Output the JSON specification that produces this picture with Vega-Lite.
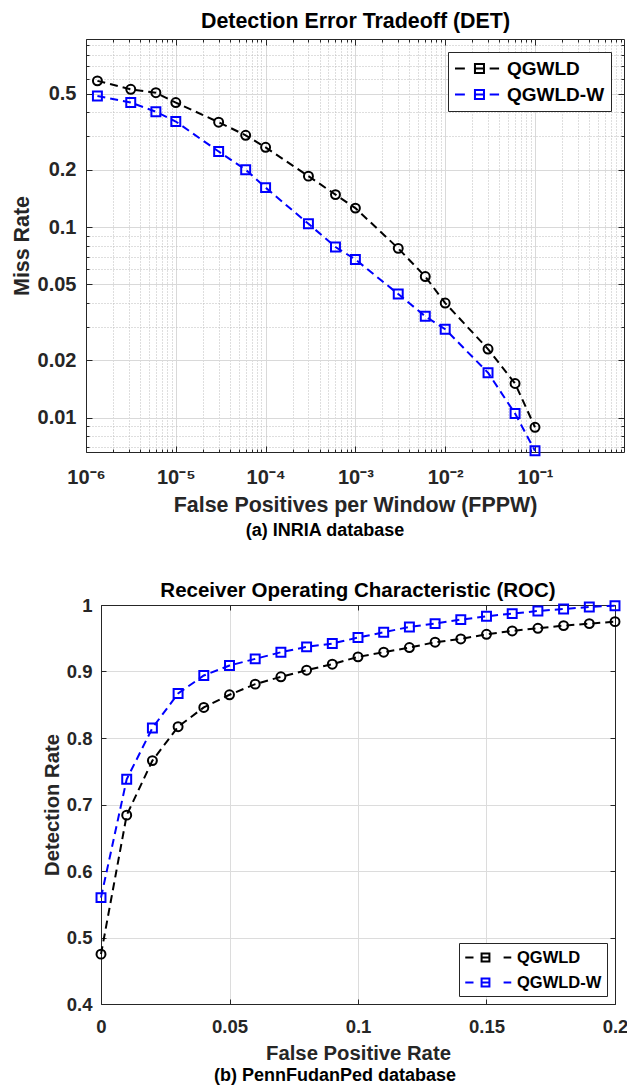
{
  "$schema": "https://vega.github.io/schema/vega-lite/v6.json",
  "background": "white",
  "padding": {"left": 11, "top": 10, "right": 0, "bottom": 0},
  "config": {
    "font": "Liberation Sans",
    "view": {"stroke": null},
    "axis": {"labelFont": "Liberation Sans", "titleFont": "Liberation Sans", "labelFontWeight": "bold", "titleFontWeight": "bold", "labelColor": "#262626", "titleColor": "#262626", "domainColor": "#262626", "tickColor": "#262626", "domainWidth": 1, "tickWidth": 1, "labelOverlap": false, "labelFlush": false, "labelBound": false, "gridWidth": 1},
    "title": {"font": "Liberation Sans", "fontWeight": "bold", "color": "#000000", "anchor": "middle"},
    "legend": {"labelFont": "Liberation Sans", "labelFontWeight": "bold", "labelColor": "#000000"}
  },
  "datasets": {
    "det": [
      {"series": "QGWLD", "fppw": 0.00000134, "miss": 0.585},
      {"series": "QGWLD", "fppw": 0.00000315, "miss": 0.528},
      {"series": "QGWLD", "fppw": 0.000006, "miss": 0.507},
      {"series": "QGWLD", "fppw": 0.00001, "miss": 0.45},
      {"series": "QGWLD", "fppw": 0.00003, "miss": 0.355},
      {"series": "QGWLD", "fppw": 0.00006, "miss": 0.303},
      {"series": "QGWLD", "fppw": 0.0001, "miss": 0.262},
      {"series": "QGWLD", "fppw": 0.0003, "miss": 0.185},
      {"series": "QGWLD", "fppw": 0.0006, "miss": 0.148},
      {"series": "QGWLD", "fppw": 0.001, "miss": 0.1257},
      {"series": "QGWLD", "fppw": 0.003, "miss": 0.0773},
      {"series": "QGWLD", "fppw": 0.006, "miss": 0.055},
      {"series": "QGWLD", "fppw": 0.01, "miss": 0.0399},
      {"series": "QGWLD", "fppw": 0.03, "miss": 0.0229},
      {"series": "QGWLD", "fppw": 0.06, "miss": 0.0151},
      {"series": "QGWLD", "fppw": 0.1, "miss": 0.0089},
      {"series": "QGWLD-W", "fppw": 0.00000134, "miss": 0.487},
      {"series": "QGWLD-W", "fppw": 0.00000315, "miss": 0.45},
      {"series": "QGWLD-W", "fppw": 0.000006, "miss": 0.403},
      {"series": "QGWLD-W", "fppw": 0.00001, "miss": 0.358},
      {"series": "QGWLD-W", "fppw": 0.00003, "miss": 0.249},
      {"series": "QGWLD-W", "fppw": 0.00006, "miss": 0.2},
      {"series": "QGWLD-W", "fppw": 0.0001, "miss": 0.161},
      {"series": "QGWLD-W", "fppw": 0.0003, "miss": 0.104},
      {"series": "QGWLD-W", "fppw": 0.0006, "miss": 0.0786},
      {"series": "QGWLD-W", "fppw": 0.001, "miss": 0.0676},
      {"series": "QGWLD-W", "fppw": 0.003, "miss": 0.0445},
      {"series": "QGWLD-W", "fppw": 0.006, "miss": 0.034},
      {"series": "QGWLD-W", "fppw": 0.01, "miss": 0.0291},
      {"series": "QGWLD-W", "fppw": 0.03, "miss": 0.0172},
      {"series": "QGWLD-W", "fppw": 0.06, "miss": 0.0105},
      {"series": "QGWLD-W", "fppw": 0.1, "miss": 0.0067}
    ],
    "roc": [
      {"series": "QGWLD", "fpr": 0, "dr": 0.475},
      {"series": "QGWLD", "fpr": 0.01, "dr": 0.684},
      {"series": "QGWLD", "fpr": 0.02, "dr": 0.766},
      {"series": "QGWLD", "fpr": 0.03, "dr": 0.817},
      {"series": "QGWLD", "fpr": 0.04, "dr": 0.846},
      {"series": "QGWLD", "fpr": 0.05, "dr": 0.865},
      {"series": "QGWLD", "fpr": 0.06, "dr": 0.881},
      {"series": "QGWLD", "fpr": 0.07, "dr": 0.892},
      {"series": "QGWLD", "fpr": 0.08, "dr": 0.902},
      {"series": "QGWLD", "fpr": 0.09, "dr": 0.911},
      {"series": "QGWLD", "fpr": 0.1, "dr": 0.922},
      {"series": "QGWLD", "fpr": 0.11, "dr": 0.929},
      {"series": "QGWLD", "fpr": 0.12, "dr": 0.936},
      {"series": "QGWLD", "fpr": 0.13, "dr": 0.944},
      {"series": "QGWLD", "fpr": 0.14, "dr": 0.949},
      {"series": "QGWLD", "fpr": 0.15, "dr": 0.956},
      {"series": "QGWLD", "fpr": 0.16, "dr": 0.961},
      {"series": "QGWLD", "fpr": 0.17, "dr": 0.965},
      {"series": "QGWLD", "fpr": 0.18, "dr": 0.969},
      {"series": "QGWLD", "fpr": 0.19, "dr": 0.972},
      {"series": "QGWLD", "fpr": 0.2, "dr": 0.975},
      {"series": "QGWLD-W", "fpr": 0, "dr": 0.56},
      {"series": "QGWLD-W", "fpr": 0.01, "dr": 0.738},
      {"series": "QGWLD-W", "fpr": 0.02, "dr": 0.815},
      {"series": "QGWLD-W", "fpr": 0.03, "dr": 0.867},
      {"series": "QGWLD-W", "fpr": 0.04, "dr": 0.894},
      {"series": "QGWLD-W", "fpr": 0.05, "dr": 0.909},
      {"series": "QGWLD-W", "fpr": 0.06, "dr": 0.919},
      {"series": "QGWLD-W", "fpr": 0.07, "dr": 0.929},
      {"series": "QGWLD-W", "fpr": 0.08, "dr": 0.937},
      {"series": "QGWLD-W", "fpr": 0.09, "dr": 0.942},
      {"series": "QGWLD-W", "fpr": 0.1, "dr": 0.951},
      {"series": "QGWLD-W", "fpr": 0.11, "dr": 0.959},
      {"series": "QGWLD-W", "fpr": 0.12, "dr": 0.967},
      {"series": "QGWLD-W", "fpr": 0.13, "dr": 0.972},
      {"series": "QGWLD-W", "fpr": 0.14, "dr": 0.978},
      {"series": "QGWLD-W", "fpr": 0.15, "dr": 0.983},
      {"series": "QGWLD-W", "fpr": 0.16, "dr": 0.987},
      {"series": "QGWLD-W", "fpr": 0.17, "dr": 0.991},
      {"series": "QGWLD-W", "fpr": 0.18, "dr": 0.994},
      {"series": "QGWLD-W", "fpr": 0.19, "dr": 0.997},
      {"series": "QGWLD-W", "fpr": 0.2, "dr": 0.999}
    ]
  },
  "resolve": {"scale": {"color": "independent"}, "legend": {"color": "independent"}},
  "spacing": 39,
  "vconcat": [
    {
      "title": {"text": "(a) INRIA database", "orient": "bottom", "fontSize": 18, "offset": 7, "color": "#000000"},
      "resolve": {"scale": {"color": "independent"}, "legend": {"color": "independent"}},
      "vconcat": [
        {
          "width": 523,
          "height": 413,
          "title": {"text": "Detection Error Tradeoff (DET)", "fontSize": 21.4, "offset": 3, "frame": "group", "dx": -7},
          "data": {"name": "det"},
          "layer": [
            {
              "mark": {"type": "line", "strokeDash": [8, 5], "strokeWidth": 2},
              "encoding": {
                "color": {
                  "field": "series", "type": "nominal",
                  "scale": {"domain": ["QGWLD", "QGWLD-W"], "range": ["#000000", "#0000ff"]},
                  "legend": {
                    "title": null, "orient": "top-right", "offset": 13, "padding": 6,
                    "strokeColor": "#262626", "fillColor": "#ffffff",
                    "labelFontSize": 19, "labelOffset": 32, "rowPadding": 5,
                    "symbolType": "M-1,0H0.04M1.1,0H2.05M2.65,0H3.64M1.1,0A0.474,0.474 0 1,1 2.05,0A0.474,0.474 0 1,1 1.1,0Z",
                    "symbolSize": 361, "symbolStrokeWidth": 2, "symbolFillColor": "transparent", "symbolDash": [],
                    "encode": {"symbols": {"update": {
                      "shape": {"condition": {"test": "datum.index === 0 || datum.label === 'QGWLD' || datum.value === 'QGWLD'", "value": "M-1,0H0.04M1.1,0H2.05M2.65,0H3.64M1.1,0A0.474,0.474 0 1,1 2.05,0A0.474,0.474 0 1,1 1.1,0Z"}, "value": "M-1,0H0.04M1.1,0H2.05M2.65,0H3.64M1.1,-0.474H2.05V0.474H1.1Z"},
                      "strokeWidth": {"value": 2}
                    }}}
                  }
                },
                "x": {
                  "field": "fppw", "type": "quantitative",
                  "scale": {"type": "log", "domain": [0.000001, 0.98], "range": [-15, 523], "nice": false},
                  "axis": {
                    "orient": "bottom",
                    "values": [0.000001,0.000002,0.000003,0.000004,0.000005,0.000006,0.000007,0.000008,0.000009,0.00001,0.00002,0.00003,0.00004,0.00005,0.00006,0.00007,0.00008,0.00009,0.0001,0.0002,0.0003,0.0004,0.0005,0.0006,0.0007,0.0008,0.0009,0.001,0.002,0.003,0.004,0.005,0.006,0.007,0.008,0.009,0.01,0.02,0.03,0.04,0.05,0.06,0.07,0.08,0.09,0.1,0.2,0.3,0.4,0.5,0.6,0.7,0.8,0.9],
                    "grid": true,
                    "gridColor": {"condition": {"test": "abs(log(datum.value)/LN10 - round(log(datum.value)/LN10)) < 0.001", "value": "#d9d9d9"}, "value": "#bdbdbd"},
                    "gridDash": {"condition": {"test": "abs(log(datum.value)/LN10 - round(log(datum.value)/LN10)) < 0.001", "value": []}, "value": [1, 2]},
                    "tickSize": {"condition": {"test": "abs(log(datum.value)/LN10 - round(log(datum.value)/LN10)) < 0.001", "value": -6}, "value": -3},
                    "labelExpr": "datum.value == 0.000001 ? '10⁻⁶' : datum.value == 0.00001 ? '10⁻⁵' : datum.value == 0.0001 ? '10⁻⁴' : datum.value == 0.001 ? '10⁻³' : datum.value == 0.01 ? '10⁻²' : datum.value == 0.1 ? '10⁻¹' : ''",
                    "labelFontSize": 20,
                    "labelPadding": 21,
                    "title": "False Positives per Window (FPPW)",
                    "titleFontSize": 21.4,
                    "titlePadding": 4
                  }
                },
                "y": {
                  "field": "miss", "type": "quantitative",
                  "scale": {"type": "log", "domain": [0.0066, 0.97], "nice": false},
                  "axis": {
                    "orient": "left", "offset": 15,
                    "values": [0.007,0.008,0.009,0.01,0.02,0.03,0.04,0.05,0.06,0.07,0.08,0.09,0.1,0.2,0.3,0.4,0.5,0.6,0.7,0.8,0.9],
                    "grid": true,
                    "gridColor": {"condition": {"test": "datum.value == 0.01 || datum.value == 0.02 || datum.value == 0.05 || datum.value == 0.1 || datum.value == 0.2 || datum.value == 0.5", "value": "#d9d9d9"}, "value": "#bdbdbd"},
                    "gridDash": {"condition": {"test": "datum.value == 0.01 || datum.value == 0.02 || datum.value == 0.05 || datum.value == 0.1 || datum.value == 0.2 || datum.value == 0.5", "value": []}, "value": [1, 2]},
                    "tickSize": {"condition": {"test": "datum.value == 0.01 || datum.value == 0.02 || datum.value == 0.05 || datum.value == 0.1 || datum.value == 0.2 || datum.value == 0.5", "value": -6}, "value": -3},
                    "labelExpr": "(datum.value == 0.01 || datum.value == 0.02 || datum.value == 0.05 || datum.value == 0.1 || datum.value == 0.2 || datum.value == 0.5) ? '' + datum.value : ''",
                    "labelFontSize": 20,
                    "labelPadding": 16,
                    "title": "Miss Rate",
                    "titleFontSize": 21.4,
                    "titlePadding": 5
                  }
                }
              }
            },
            {
              "transform": [{"filter": "datum.series === 'QGWLD'"}],
              "mark": {"type": "point", "shape": "circle", "filled": false, "strokeWidth": 2, "size": 80, "opacity": 1, "color": "#000000"},
              "encoding": {
                "x": {
                  "field": "fppw", "type": "quantitative",
                  "scale": {"type": "log", "domain": [0.000001, 0.98], "range": [-15, 523], "nice": false},
                  "axis": {
                    "orient": "top",
                    "values": [0.000001,0.000002,0.000003,0.000004,0.000005,0.000006,0.000007,0.000008,0.000009,0.00001,0.00002,0.00003,0.00004,0.00005,0.00006,0.00007,0.00008,0.00009,0.0001,0.0002,0.0003,0.0004,0.0005,0.0006,0.0007,0.0008,0.0009,0.001,0.002,0.003,0.004,0.005,0.006,0.007,0.008,0.009,0.01,0.02,0.03,0.04,0.05,0.06,0.07,0.08,0.09,0.1,0.2,0.3,0.4,0.5,0.6,0.7,0.8,0.9],
                    "grid": false, "labels": false, "title": null,
                    "tickSize": {"condition": {"test": "abs(log(datum.value)/LN10 - round(log(datum.value)/LN10)) < 0.001", "value": -6}, "value": -3}
                  }
                },
                "y": {
                  "field": "miss", "type": "quantitative",
                  "scale": {"type": "log", "domain": [0.0066, 0.97], "nice": false},
                  "axis": {
                    "orient": "right",
                    "values": [0.007,0.008,0.009,0.01,0.02,0.03,0.04,0.05,0.06,0.07,0.08,0.09,0.1,0.2,0.3,0.4,0.5,0.6,0.7,0.8,0.9],
                    "grid": false, "labels": false, "title": null,
                    "tickSize": {"condition": {"test": "datum.value == 0.01 || datum.value == 0.02 || datum.value == 0.05 || datum.value == 0.1 || datum.value == 0.2 || datum.value == 0.5", "value": -6}, "value": -3}
                  }
                }
              }
            },
            {
              "transform": [{"filter": "datum.series === 'QGWLD-W'"}],
              "mark": {"type": "point", "shape": "square", "filled": false, "strokeWidth": 2, "size": 80, "opacity": 1, "color": "#0000ff"},
              "encoding": {
                "x": {"field": "fppw", "type": "quantitative", "scale": {"type": "log", "domain": [0.000001, 0.98], "range": [-15, 523], "nice": false}, "axis": null},
                "y": {"field": "miss", "type": "quantitative", "scale": {"type": "log", "domain": [0.0066, 0.97], "nice": false}, "axis": null}
              }
            }
          ],
          "resolve": {"axis": {"x": "independent", "y": "independent"}}
        }
      ]
    },
    {
      "title": {"text": "(b) PennFudanPed database", "orient": "bottom", "fontSize": 18, "offset": 3, "color": "#000000"},
      "resolve": {"scale": {"color": "independent"}, "legend": {"color": "independent"}},
      "vconcat": [
        {
          "width": 514,
          "height": 399,
          "title": {"text": "Receiver Operating Characteristic (ROC)", "fontSize": 20.5, "offset": -5, "frame": "group"},
          "data": {"name": "roc"},
          "layer": [
            {
              "mark": {"type": "line", "strokeDash": [8, 5], "strokeWidth": 2},
              "encoding": {
                "color": {
                  "field": "series", "type": "nominal",
                  "scale": {"domain": ["QGWLD", "QGWLD-W"], "range": ["#000000", "#0000ff"]},
                  "legend": {
                    "title": null, "orient": "bottom-right", "offset": 8, "padding": 5,
                    "strokeColor": "#262626", "fillColor": "#ffffff",
                    "labelFontSize": 16.5, "labelOffset": 34, "rowPadding": 7,
                    "symbolType": "M-1,0H0M0.98,0H1.93M3.65,0H4.58M0.98,0A0.473,0.473 0 1,1 1.93,0A0.473,0.473 0 1,1 0.98,0Z",
                    "symbolSize": 272, "symbolStrokeWidth": 2, "symbolFillColor": "transparent", "symbolDash": [],
                    "encode": {"symbols": {"update": {
                      "shape": {"condition": {"test": "datum.index === 0 || datum.label === 'QGWLD' || datum.value === 'QGWLD'", "value": "M-1,0H0M0.98,0H1.93M3.65,0H4.58M0.98,0A0.473,0.473 0 1,1 1.93,0A0.473,0.473 0 1,1 0.98,0Z"}, "value": "M-1,0H0M0.98,0H1.93M3.65,0H4.58M0.98,-0.473H1.93V0.473H0.98Z"},
                      "strokeWidth": {"value": 2}
                    }}}
                  }
                },
                "x": {
                  "field": "fpr", "type": "quantitative",
                  "scale": {"domain": [0, 0.2], "nice": false, "zero": false},
                  "axis": {
                    "orient": "bottom", "values": [0, 0.05, 0.1, 0.15, 0.2],
                    "grid": true, "gridColor": "#dcdcdc", "tickSize": -5,
                    "labelExpr": "'' + datum.value", "labelFontSize": 18.5, "labelPadding": 18,
                    "title": "False Positive Rate", "titleFontSize": 20.3, "titlePadding": 8
                  }
                },
                "y": {
                  "field": "dr", "type": "quantitative",
                  "scale": {"domain": [0.4, 1], "nice": false, "zero": false},
                  "axis": {
                    "orient": "left", "values": [0.4, 0.5, 0.6, 0.7, 0.8, 0.9, 1],
                    "grid": true, "gridColor": "#dcdcdc", "tickSize": -5,
                    "labelExpr": "'' + datum.value", "labelFontSize": 18.5, "labelPadding": 14,
                    "title": "Detection Rate", "titleFontSize": 20.3, "titlePadding": 4
                  }
                }
              }
            },
            {
              "transform": [{"filter": "datum.series === 'QGWLD'"}],
              "mark": {"type": "point", "shape": "circle", "filled": false, "strokeWidth": 2, "size": 80, "opacity": 1, "color": "#000000"},
              "encoding": {
                "x": {
                  "field": "fpr", "type": "quantitative",
                  "scale": {"domain": [0, 0.2], "nice": false, "zero": false},
                  "axis": {"orient": "top", "values": [0, 0.05, 0.1, 0.15, 0.2], "grid": false, "labels": false, "title": null, "tickSize": -5}
                },
                "y": {
                  "field": "dr", "type": "quantitative",
                  "scale": {"domain": [0.4, 1], "nice": false, "zero": false},
                  "axis": {"orient": "right", "values": [0.4, 0.5, 0.6, 0.7, 0.8, 0.9, 1], "grid": false, "labels": false, "title": null, "tickSize": -5}
                }
              }
            },
            {
              "transform": [{"filter": "datum.series === 'QGWLD-W'"}],
              "mark": {"type": "point", "shape": "square", "filled": false, "strokeWidth": 2, "size": 80, "opacity": 1, "color": "#0000ff"},
              "encoding": {
                "x": {"field": "fpr", "type": "quantitative", "scale": {"domain": [0, 0.2], "nice": false, "zero": false}, "axis": null},
                "y": {"field": "dr", "type": "quantitative", "scale": {"domain": [0.4, 1], "nice": false, "zero": false}, "axis": null}
              }
            }
          ],
          "resolve": {"axis": {"x": "independent", "y": "independent"}}
        }
      ]
    }
  ]
}
